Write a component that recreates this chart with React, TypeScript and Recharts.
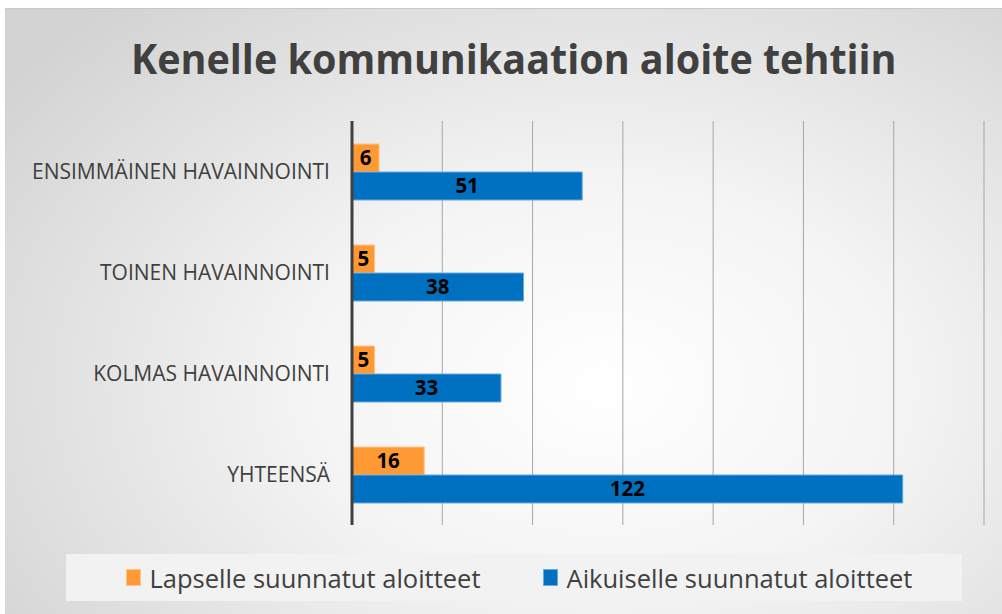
import React from "react";
import { BarChart, Bar, XAxis, YAxis, CartesianGrid, LabelList } from "recharts";

const categories = ["ENSIMMÄINEN HAVAINNOINTI", "TOINEN HAVAINNOINTI", "KOLMAS HAVAINNOINTI", "YHTEENSÄ"];
const lapselle = [6, 5, 5, 16];
const aikuiselle = [51, 38, 33, 122];
const xTicks = [0, 20, 40, 60, 80, 100, 120, 140];
const seriesNames = ["Lapselle suunnatut aloitteet", "Aikuiselle suunnatut aloitteet"];
const title = "Kenelle kommunikaation aloite tehtiin";

const data = categories.map((c, i) => ({ name: c, lapselle: lapselle[i], aikuiselle: aikuiselle[i] }));

const ORANGE = "#FF9933";
const BLUE = "#0070C0";
const FONT = "'Open Sans', sans-serif";

export default function App() {
  return (
    <div
      style={{
        position: "absolute",
        left: 5,
        top: 8,
        width: 997,
        height: 606,
        background: "radial-gradient(ellipse 75% 85% at 60% 62%, #ffffff 0%, #f4f4f4 40%, #d2d2d2 100%)",
        borderTop: "1px solid #c8c8c8",
        fontFamily: FONT,
        overflow: "hidden",
      }}
    >
      <div
        style={{
          position: "absolute",
          left: 0,
          width: 1017,
          top: 21,
          textAlign: "center",
          fontSize: 42,
          fontWeight: 700,
          color: "#404040",
          lineHeight: "56px",
          transform: "scaleX(0.94)",
          transformOrigin: "513px 0",
        }}
      >
        {title}
      </div>
      <div style={{ position: "absolute", left: 0, top: 0 }}>
        <BarChart
          width={997}
          height={606}
          data={data}
          layout="vertical"
          margin={{ top: 112, right: 18, bottom: 90, left: 0 }}
          barCategoryGap="22%"
          barGap={0}
        >
          <CartesianGrid horizontal={false} stroke="#a6a6a6" strokeWidth={1} />
          <XAxis type="number" domain={[0, 140]} ticks={xTicks} hide />
          <YAxis
            type="category"
            dataKey="name"
            width={347}
            tickSize={0}
            tickMargin={22}
            axisLine={{ stroke: "#404040", strokeWidth: 3 }}
            tickLine={false}
            tick={{ fill: "#404040", fontSize: 21, fontFamily: FONT }}
          />
          <Bar dataKey="lapselle" name={seriesNames[0]} fill={ORANGE} stroke="#FFC58A" strokeWidth={1} barSize={28} isAnimationActive={false}>
            <LabelList dataKey="lapselle" position="center" fill="#000" fontSize={20.5} fontWeight={700} fontFamily={FONT} />
          </Bar>
          <Bar dataKey="aikuiselle" name={seriesNames[1]} fill={BLUE} stroke="#6FA8DC" strokeWidth={1} barSize={28} isAnimationActive={false}>
            <LabelList dataKey="aikuiselle" position="center" fill="#000" fontSize={20.5} fontWeight={700} fontFamily={FONT} />
          </Bar>
        </BarChart>
      </div>
      <div
        style={{
          position: "absolute",
          left: 61,
          top: 545,
          width: 896,
          height: 47,
          background: "#f2f2f2",
          display: "flex",
          alignItems: "center",
          justifyContent: "center",
          gap: 62,
          paddingLeft: 10,
          boxSizing: "border-box",
          color: "#404040",
          fontSize: 25.5,
        }}
      >
        {seriesNames.map((n, i) => (
          <div key={n} style={{ display: "flex", alignItems: "center" }}>
            <span
              style={{
                display: "inline-block",
                width: 13,
                height: 15,
                background: i === 0 ? ORANGE : BLUE,
                border: `1px solid ${i === 0 ? "#FFC58A" : "#6FA8DC"}`,
                marginRight: 9,
              }}
            />
            <span>{n}</span>
          </div>
        ))}
      </div>
    </div>
  );
}
